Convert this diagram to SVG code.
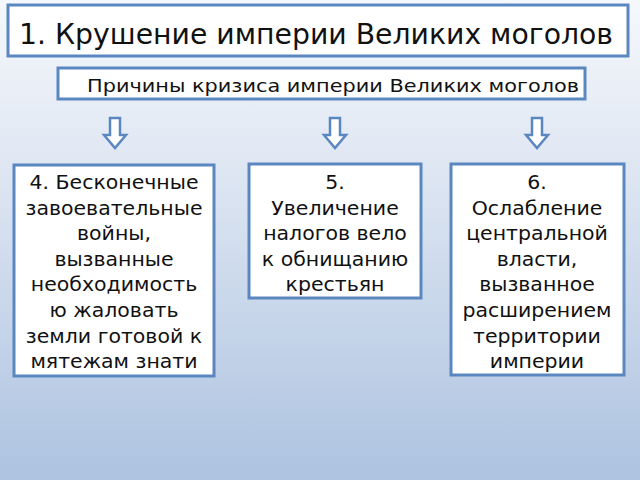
<svg xmlns="http://www.w3.org/2000/svg" width="640" height="480" viewBox="0 0 640 480">
<defs>
<linearGradient id="bg" x1="0" y1="0" x2="0" y2="1">
<stop offset="0" stop-color="#f5f8fc"/>
<stop offset="0.3" stop-color="#e2e9f4"/>
<stop offset="1" stop-color="#adc3e0"/>
</linearGradient>
<path id="arr" d="M-5,-15 L5,-15 L5,2 L11,2 L0,15 L-11,2 L-5,2 Z"/>
</defs>
<style>
.box{fill:#ffffff;stroke:#5b87c0;stroke-width:3}
.t{font-family:"DejaVu Sans",sans-serif;fill:#111111}
.b{font-size:19.5px;text-anchor:middle}
.a{fill:#ffffff;stroke:#5b87c0;stroke-width:2.5;stroke-linejoin:miter}
</style>
<rect x="0" y="0" width="640" height="480" fill="url(#bg)"/>
<g id="title">
<rect class="box" x="8" y="5" width="620" height="51"/>
<text class="t" x="19" y="44" font-size="28.5" textLength="594" lengthAdjust="spacingAndGlyphs">1. Крушение империи Великих моголов</text>
</g>
<g id="causes">
<rect class="box" x="58" y="68" width="527" height="31"/>
<text class="t" x="87" y="91.5" font-size="18" textLength="492" lengthAdjust="spacingAndGlyphs">Причины кризиса империи Великих моголов</text>
</g>
<g id="connectors">
<use href="#arr" class="a" x="115" y="133"/>
<use href="#arr" class="a" x="335" y="133"/>
<use href="#arr" class="a" x="537" y="133"/>
</g>
<g id="node4">
<rect class="box" x="14" y="165" width="200" height="211"/>
<text class="t b" transform="translate(114 0) scale(1.05 1) translate(-114 0)"><tspan x="114" y="189">4. Бесконечные</tspan><tspan x="114" y="214.6">завоевательные</tspan><tspan x="114" y="240.2">войны,</tspan><tspan x="114" y="265.8">вызванные</tspan><tspan x="114" y="291.4">необходимость</tspan><tspan x="114" y="317">ю жаловать</tspan><tspan x="114" y="342.6">земли готовой к</tspan><tspan x="114" y="368.2">мятежам знати</tspan></text>
</g>
<g id="node5">
<rect class="box" x="249" y="164" width="172" height="134"/>
<text class="t b" transform="translate(335 0) scale(1.05 1) translate(-335 0)"><tspan x="335" y="189">5.</tspan><tspan x="335" y="214.6">Увеличение</tspan><tspan x="335" y="240.2">налогов вело</tspan><tspan x="335" y="265.8">к обнищанию</tspan><tspan x="335" y="291.4">крестьян</tspan></text>
</g>
<g id="node6">
<rect class="box" x="451" y="164" width="173" height="211"/>
<text class="t b" transform="translate(537 0) scale(1.05 1) translate(-537 0)"><tspan x="537" y="189">6.</tspan><tspan x="537" y="214.6">Ослабление</tspan><tspan x="537" y="240.2">центральной</tspan><tspan x="537" y="265.8">власти,</tspan><tspan x="537" y="291.4">вызванное</tspan><tspan x="537" y="317">расширением</tspan><tspan x="537" y="342.6">территории</tspan><tspan x="537" y="368.2">империи</tspan></text>
</g>
</svg>
